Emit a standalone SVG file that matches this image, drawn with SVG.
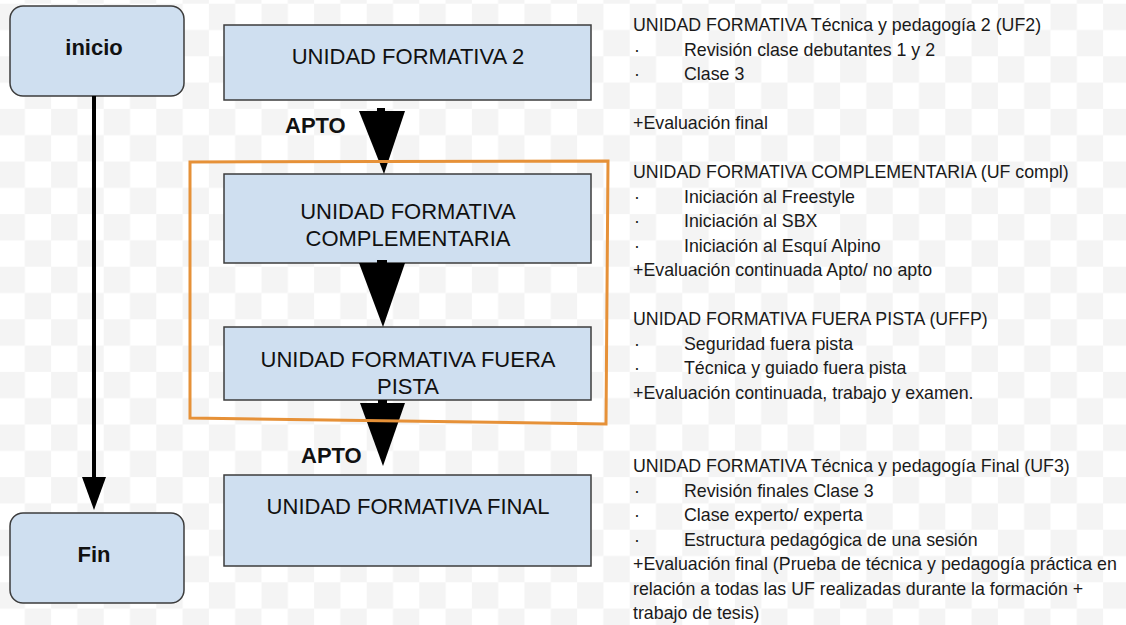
<svg xmlns="http://www.w3.org/2000/svg" width="1126" height="625" viewBox="0 0 1126 625">
  <defs>
    <pattern id="checker" patternUnits="userSpaceOnUse" x="-1.5" y="3.7" width="52.6" height="52.6">
      <rect x="0" y="0" width="52.6" height="52.6" fill="#ffffff"/>
      <rect x="0" y="0" width="26.3" height="26.3" fill="#f4f4f4"/>
      <rect x="26.3" y="26.3" width="26.3" height="26.3" fill="#f4f4f4"/>
    </pattern>
    <style>
      .box { fill: #cfdff0; stroke: #3d3d3d; stroke-width: 1.5; }
      .term { font-family: "Liberation Sans", Arial, sans-serif; font-size: 22px; font-weight: bold; fill: #111; text-anchor: middle; }
      .lbl { font-family: "Liberation Sans", Arial, sans-serif; font-size: 22px; fill: #111; text-anchor: middle; }
      .apto { font-family: "Liberation Sans", Arial, sans-serif; font-size: 22px; font-weight: bold; fill: #111; }
      .note { font-family: "Liberation Sans", Arial, sans-serif; font-size: 17.8px; fill: #1a1a1a; }
      .arrow { fill: #000; }
    </style>
  </defs>
  <rect x="0" y="0" width="1126" height="625" fill="url(#checker)"/>

  <g id="node-inicio">
    <rect class="box" x="10" y="6" width="174" height="90" rx="13" ry="13"/>
    <text class="term" x="94" y="55">inicio</text>
  </g>
  <g id="node-fin">
    <rect class="box" x="10" y="513" width="174" height="90" rx="13" ry="13"/>
    <text class="term" x="94" y="562">Fin</text>
  </g>
  <g id="node-uf2">
    <rect class="box" x="224" y="25" width="367" height="75"/>
    <text class="lbl" x="408" y="64">UNIDAD FORMATIVA 2</text>
  </g>
  <g id="node-ufcompl">
    <rect class="box" x="224" y="174" width="367" height="89"/>
    <text class="lbl" x="408" y="219">UNIDAD FORMATIVA</text>
    <text class="lbl" x="408" y="246">COMPLEMENTARIA</text>
  </g>
  <g id="node-uffp">
    <rect class="box" x="224" y="327" width="367" height="73"/>
    <text class="lbl" x="408" y="367">UNIDAD FORMATIVA FUERA</text>
    <text class="lbl" x="408" y="394">PISTA</text>
  </g>
  <g id="node-uffinal">
    <rect class="box" x="224" y="475" width="367" height="91"/>
    <text class="lbl" x="408" y="514">UNIDAD FORMATIVA FINAL</text>
  </g>

  <g id="connectors">
    <line x1="94" y1="96" x2="94" y2="479" stroke="#000" stroke-width="4"/>
    <polygon class="arrow" points="82,477 106,477 94,510"/>

    <rect class="arrow" x="377" y="108" width="8" height="4"/>
    <polygon class="arrow" points="359,111 405,111 384,174"/>
    <text class="apto" x="285" y="133">APTO</text>

    <rect class="arrow" x="377" y="260" width="10" height="4"/>
    <polygon class="arrow" points="359,263 405,263 383,327"/>

    <rect class="arrow" x="378" y="400" width="9" height="4"/>
    <polygon class="arrow" points="360,403 405,403 383,466"/>
    <text class="apto" x="301" y="463">APTO</text>
  </g>

  <g id="group-frame">
    <path d="M190,162 L608,161 L606,424 L190,418 Z" fill="none" stroke="#e69138" stroke-width="3"/>
  </g>

  <g id="notes">
    <text class="note" x="633" y="31">UNIDAD FORMATIVA Técnica y pedagogía 2 (UF2)</text>
    <text class="note" x="634" y="55.5">·</text><text class="note" x="684" y="55.5">Revisión clase debutantes 1 y 2</text>
    <text class="note" x="634" y="80">·</text><text class="note" x="684" y="80">Clase 3</text>
    <text class="note" x="633" y="129">+Evaluación final</text>

    <text class="note" x="633" y="178">UNIDAD FORMATIVA COMPLEMENTARIA (UF compl)</text>
    <text class="note" x="634" y="202.5">·</text><text class="note" x="684" y="202.5">Iniciación al Freestyle</text>
    <text class="note" x="634" y="227">·</text><text class="note" x="684" y="227">Iniciación al SBX</text>
    <text class="note" x="634" y="251.5">·</text><text class="note" x="684" y="251.5">Iniciación al Esquí Alpino</text>
    <text class="note" x="633" y="276">+Evaluación continuada Apto/ no apto</text>

    <text class="note" x="633" y="325">UNIDAD FORMATIVA FUERA PISTA (UFFP)</text>
    <text class="note" x="634" y="349.5">·</text><text class="note" x="684" y="349.5">Seguridad fuera pista</text>
    <text class="note" x="634" y="374">·</text><text class="note" x="684" y="374">Técnica y guiado fuera pista</text>
    <text class="note" x="633" y="398.5">+Evaluación continuada, trabajo y examen.</text>

    <text class="note" x="633" y="472">UNIDAD FORMATIVA Técnica y pedagogía Final (UF3)</text>
    <text class="note" x="634" y="496.5">·</text><text class="note" x="684" y="496.5">Revisión finales Clase 3</text>
    <text class="note" x="634" y="521">·</text><text class="note" x="684" y="521">Clase experto/ experta</text>
    <text class="note" x="634" y="545.5">·</text><text class="note" x="684" y="545.5">Estructura pedagógica de una sesión</text>
    <text class="note" x="633" y="570">+Evaluación final (Prueba de técnica y pedagogía práctica en</text>
    <text class="note" x="633" y="594.5">relación a todas las UF realizadas durante la formación +</text>
    <text class="note" x="633" y="619">trabajo de tesis)</text>
  </g>
</svg>
